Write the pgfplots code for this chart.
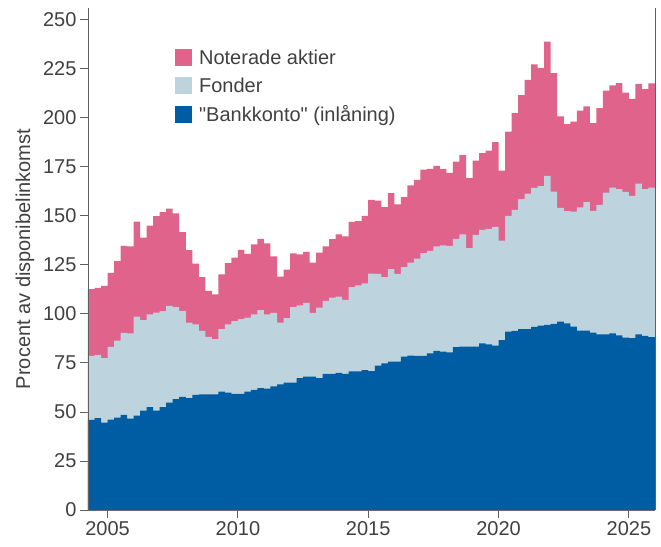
\documentclass[border=0pt]{standalone}
\usepackage{pgfplots}
\usepackage{pgfplotstable}
\pgfplotsset{compat=1.18}
\usepackage{fontspec}
\setmainfont{Liberation Sans}
\newfontfamily\plainfont{Liberation Sans}
\definecolor{aktier}{HTML}{E0638B}
\definecolor{fonder}{HTML}{BDD4DF}
\definecolor{bank}{HTML}{005DA3}
\definecolor{txt}{HTML}{404040}
\definecolor{axg}{HTML}{606060}
% date, bank (top), bank+fonder (top), total (top)
\pgfplotstableread{
date b f t
2004.25 45.9 78.6 112.6
2004.50 46.8 79.1 113.3
2004.75 44.6 77.4 114.3
2005.00 46.1 83.2 120.9
2005.25 47.1 86.4 126.9
2005.50 48.5 90.3 134.7
2005.75 46.6 90.1 134.5
2006.00 48.1 98.6 147.1
2006.25 50.7 96.8 138.9
2006.50 52.4 99.7 145.0
2006.75 50.7 100.7 149.8
2007.00 52.4 101.4 151.9
2007.25 54.7 104.1 153.7
2007.50 56.5 103.4 151.3
2007.75 57.7 101.5 141.7
2008.00 57.0 95.6 132.5
2008.25 58.7 94.7 125.7
2008.50 59.0 91.3 118.7
2008.75 58.9 88.3 111.7
2009.00 59.0 87.2 110.0
2009.25 60.4 92.2 120.1
2009.50 59.9 94.7 125.9
2009.75 59.2 96.3 128.7
2010.00 59.2 97.3 132.7
2010.25 60.4 98.1 130.6
2010.50 61.2 99.7 135.5
2010.75 62.2 101.9 138.3
2011.00 61.9 99.7 136.0
2011.25 63.1 100.5 129.4
2011.50 64.0 95.6 119.0
2011.75 64.9 97.8 122.6
2012.00 64.9 103.4 130.9
2012.25 67.3 104.3 130.3
2012.50 68.0 105.6 131.6
2012.75 68.0 100.5 126.2
2013.00 67.3 103.2 131.3
2013.25 69.4 106.6 134.4
2013.50 69.4 108.3 138.1
2013.75 69.9 108.8 140.5
2014.00 69.4 107.1 139.6
2014.25 70.7 113.6 146.9
2014.50 70.7 114.6 147.3
2014.75 71.3 115.6 150.0
2015.00 70.8 120.5 158.2
2015.25 73.6 120.4 157.8
2015.50 74.8 118.7 154.4
2015.75 75.7 122.8 161.6
2016.00 75.7 120.4 155.8
2016.25 78.2 123.8 159.5
2016.50 78.7 126.2 165.5
2016.75 78.6 128.2 168.4
2017.00 78.6 131.0 173.6
2017.25 79.9 132.1 174.0
2017.50 81.1 134.4 175.5
2017.75 80.8 135.0 174.0
2018.00 80.4 134.7 171.9
2018.25 83.0 138.3 177.6
2018.50 83.3 140.5 181.0
2018.75 83.3 133.5 169.2
2019.00 83.3 140.3 178.2
2019.25 85.0 142.9 182.0
2019.50 84.5 143.4 183.3
2019.75 83.8 144.4 187.6
2020.00 86.6 137.4 173.1
2020.25 91.0 150.0 193.0
2020.50 91.3 153.1 202.4
2020.75 92.3 158.5 211.6
2021.00 92.2 161.4 219.4
2021.25 93.4 164.3 227.2
2021.50 94.0 165.1 225.3
2021.75 94.4 170.4 238.8
2022.00 94.9 162.4 222.8
2022.25 96.1 154.1 200.7
2022.50 95.2 152.4 196.8
2022.75 93.5 152.2 198.1
2023.00 91.5 154.3 203.7
2023.25 91.5 157.0 205.8
2023.50 90.5 152.6 197.3
2023.75 89.6 155.6 204.9
2024.00 89.6 161.9 213.9
2024.25 90.1 164.4 216.5
2024.50 89.1 163.6 217.7
2024.75 87.9 162.2 212.9
2025.00 87.6 160.2 209.7
2025.25 89.6 166.5 217.3
2025.50 88.8 163.6 214.6
2025.75 88.1 164.4 217.5
2026.00 88.1 164.4 217.5
}\data
\begin{document}
\begin{tikzpicture}
\begin{axis}[
  name=ax,
  scale only axis,
  width=567pt, height=502pt,
  xmin=2004.25, xmax=2026,
  ymin=0, ymax=256,
  axis lines*=left,
  axis line style={-, draw=axg, line width=0.9pt},
  clip=false,
  xtick={2005,2010,2015,2020,2025},
  ytick={0,25,...,250},
  tick align=outside,
  major tick length=8pt,
  tick style={draw=axg, line width=0.9pt},
  /pgf/number format/assume math mode=true,
  /pgf/number format/1000 sep={},
  ticklabel style={font=\fontsize{20}{24}\selectfont, text=txt},
  every axis y label/.style={at={([xshift=-63pt]axis description cs:0,0.5)}, rotate=90, anchor=center},
  ylabel={Procent av disponibelinkomst},
  label style={font=\fontsize{20}{24}\selectfont, text=txt},
  legend style={draw=none, fill=none, at={(axis description cs:0.148,0.923)}, anchor=north west,
    font=\fontsize{20}{24}\selectfont, text=txt, row sep=10pt,
    nodes={inner sep=1pt}},
  legend cell align=left,
  legend image code/.code={\fill[#1] (0pt,-8.5pt) rectangle (17pt,8.5pt); \path (23pt,0pt);},
]
\addplot[const plot, draw=none, fill=aktier] table[x=date, y=t] {\data} \closedcycle;
\addlegendentry{Noterade aktier}
\addplot[const plot, draw=none, fill=fonder] table[x=date, y=f] {\data} \closedcycle;
\addlegendentry{Fonder}
\addplot[const plot, draw=none, fill=bank] table[x=date, y=b] {\data} \closedcycle;
\addlegendentry{{\plainfont"}Bankkonto{\plainfont"} (inlåning)}
\draw[axg, line width=0.9pt] (rel axis cs:1,0) -- (rel axis cs:1,1);
\draw[axg, line width=0.9pt] (rel axis cs:0,0) -- (rel axis cs:0,1);
\end{axis}
\pgfresetboundingbox
\path ([shift={(-88pt,-36pt)}]ax.south west) rectangle ([shift={(6pt,8pt)}]ax.north east);
\end{tikzpicture}
\end{document}
